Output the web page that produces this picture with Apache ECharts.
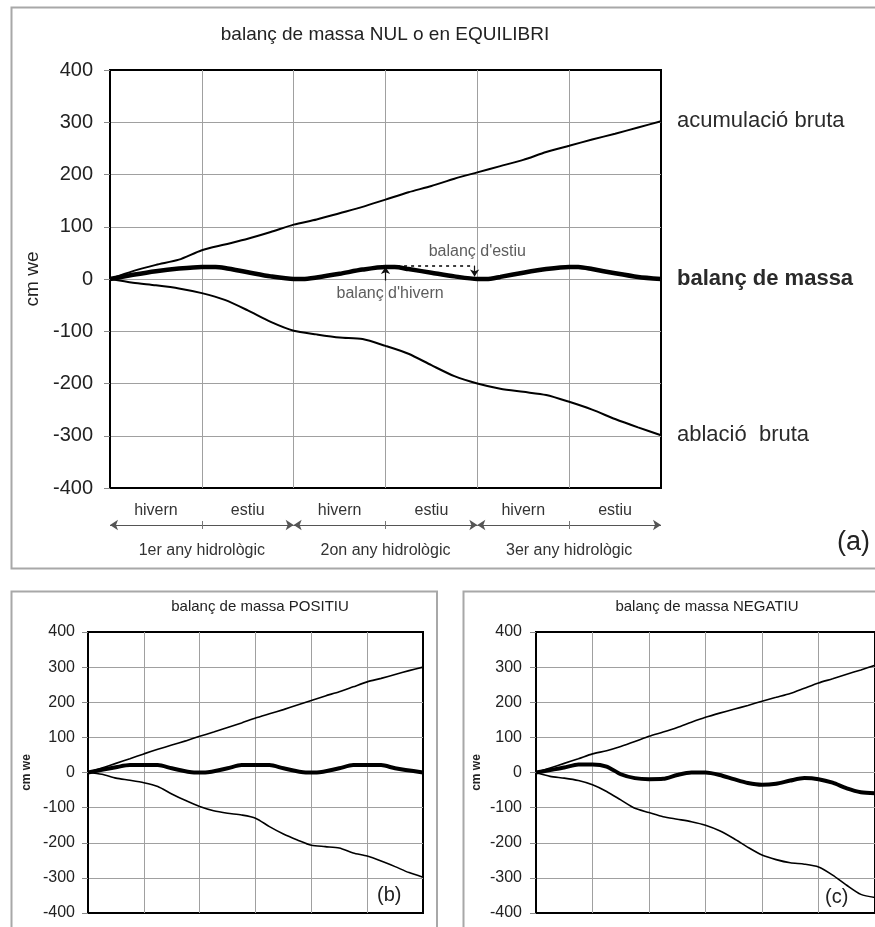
<!DOCTYPE html>
<html><head><meta charset="utf-8">
<script src="https://cdn.jsdelivr.net/npm/echarts@6/dist/echarts.min.js"></script>
<style>html,body{margin:0;padding:0;background:#fff}#c{width:875px;height:927px}</style>
</head><body><div id="c"></div>
<script>
// ---------- data ----------
const tQ = [0,0.25,0.5,0.75,1,1.25,1.5,1.75,2,2.25,2.5,2.75,3,3.25,3.5,3.75,4,4.25,4.5,4.75,5,5.25,5.5,5.75,6];

// (a) balanç NUL o en EQUILIBRI
const accA = [0,15,27,37,55,66,77,90,104,114,126,138,152,166,178,192,204,216,228,243,255,267,278,290,302];
const ablA = [0,-7,-12,-18,-27,-40,-60,-82,-99,-106,-112,-115,-128,-143,-165,-186,-200,-210,-216,-222,-235,-250,-268,-284,-299];
const balA_t = [0,0.25,0.5,0.75,1,1.15,1.25,1.5,1.75,2,2.1,2.25,2.5,2.75,3,3.1,3.25,3.5,3.75,4,4.1,4.25,4.5,4.75,5,5.1,5.25,5.5,5.75,6];
const balA = [0,8,15,20,23,23,21,13,5,0,0,3,10,18,23,23,19,12,5,0,0,4,12,19,23,23,19,11,4,0];

// (b) balanç POSITIU
const accB = [0,13,26,39,53,66,78,90,103,115,128,141,155,167,179,192,205,218,230,244,258,268,279,290,300];
const ablB = [0,-5,-16,-22,-29,-40,-61,-80,-97,-109,-116,-121,-130,-154,-175,-192,-207,-211,-215,-229,-238,-252,-268,-285,-298];
const balB_t = [0,0.25,0.5,0.75,1.25,1.5,1.9,2.1,2.5,2.75,3.25,3.5,3.9,4.1,4.5,4.75,5.25,5.5,6];
const balB = [0,8,15,21,21,12,0,0,12,21,21,12,0,0,12,21,21,12,0];

// (c) balanç NEGATIU
const accC = [0,13,26,39,53,62,74,88,103,115,128,143,157,169,180,191,203,214,225,240,255,267,280,292,305];
const ablC = [0,-11,-16,-23,-35,-54,-78,-102,-114,-126,-133,-140,-150,-166,-188,-213,-235,-248,-257,-261,-269,-292,-321,-347,-356];
const balC = [0,7,14,23,23,17,-5,-16,-19,-18,-7,0,0,-7,-19,-30,-35,-32,-23,-16,-19,-29,-45,-56,-59];

// axis / labels
const yMin = -400, yMax = 400, yStep = 100;
const seasonLabels = ['hivern','estiu','hivern','estiu','hivern','estiu'];
const yearLabels = ['1er any hidrològic','2on any hidrològic','3er any hidrològic'];
const yearBounds = [0,2,4,6];
const midTicks = [1,3,5];
const endNames = ['acumulació bruta','balanç de massa','ablació  bruta'];
// annotation: winter balance arrow (t, from, to), summer balance arrow, dotted level
const winterArrow = [3, -3, 23];
const summerArrow = [3.97, 25, 5];
const dottedLevel = [3.05, 3.97, 25];
const notes = [
  {t: 3.05, v: -27, text: "balanç d'hivern"},
  {t: 4.0, v: 52, text: "balanç d'estiu"}
];

// ---------- chart ----------
const FONT = 'Liberation Sans, Arial, Helvetica, sans-serif';
const GRIDC = '#a0a0a0';
const chart = echarts.init(document.getElementById('c'));

function mainX(g){
  return {type:'value', gridIndex:g, min:0, max:6, interval:1,
    axisLabel:{show:false}, axisTick:{show:false}, axisLine:{show:false},
    splitLine:{show:true, showMinLine:false, showMaxLine:false, lineStyle:{color:GRIDC, width:1}}};
}
function mainY(g, fs, margin, nameGap, nameStyle){
  return {type:'value', gridIndex:g, min:yMin, max:yMax, interval:yStep,
    name:'cm we', nameLocation:'middle', nameGap:nameGap, nameRotate:90,
    nameTextStyle:Object.assign({fontFamily:FONT, color:'#222'}, nameStyle),
    axisLine:{show:true, lineStyle:{color:'#000', width:2}},
    axisTick:{show:true, length:6, lineStyle:{color:'#888'}},
    axisLabel:{fontSize:fs, color:'#222', margin:margin, fontFamily:FONT},
    splitLine:{show:true, showMinLine:false, showMaxLine:false, lineStyle:{color:GRIDC, width:1}}};
}
function line(g, ts, vs, w, extra){
  return Object.assign({type:'line', xAxisIndex:g, yAxisIndex:g,
    data: ts.map((t,i)=>[t, vs[i]]), symbol:'none', showSymbol:false, smooth:0.25,
    lineStyle:{color:'#000', width:w}, silent:true, z: w > 3 ? 5 : 3}, extra || {});
}
function endLabel(text, bold){
  return {endLabel:{show:true, formatter:text, distance:16, fontSize:22, color:'#2a2a2a',
    fontWeight: bold ? 'bold' : 'normal', fontFamily:FONT}};
}

const option = {
  animation:false,
  backgroundColor:'#fff',
  textStyle:{fontFamily:FONT},
  grid:[
    {left:110, top:70, width:551, height:418, show:true, borderColor:'#000', borderWidth:2, backgroundColor:'transparent'},
    {left:88, top:632, width:335, height:281, show:true, borderColor:'#000', borderWidth:2, backgroundColor:'transparent'},
    {left:536, top:632, width:341, height:281, show:true, borderColor:'#000', borderWidth:2, backgroundColor:'transparent'},
    {left:110, top:521, width:551, height:8, show:false}
  ],
  xAxis:[
    mainX(0), mainX(1), mainX(2),
    {type:'value', gridIndex:3, min:0, max:6, show:false},
    {type:'category', gridIndex:3, data:seasonLabels, position:'top', boundaryGap:true,
      axisLine:{show:false}, axisTick:{show:false},
      axisLabel:{interval:0, margin:2, fontSize:16, color:'#333', fontFamily:FONT}},
    {type:'category', gridIndex:3, data:yearLabels, position:'bottom', boundaryGap:true,
      axisLine:{show:false}, axisTick:{show:false},
      axisLabel:{interval:0, margin:14, fontSize:16, color:'#333', fontFamily:FONT}}
  ],
  yAxis:[
    mainY(0, 20, 17, 66, {fontSize:19}),
    mainY(1, 16, 13, 55, {fontSize:12, fontWeight:'bold'}),
    mainY(2, 16, 14, 53, {fontSize:12, fontWeight:'bold'}),
    {type:'value', gridIndex:3, min:-1, max:1, show:false}
  ],
  series:[
    // (a)
    line(0, tQ, accA, 2, Object.assign(endLabel(endNames[0], false), {
      markLine:{silent:true, symbol:'none', label:{show:false},
        lineStyle:{color:'#000', width:1.6, type:[3,4]},
        data:[[{coord:[dottedLevel[0], dottedLevel[2]]},{coord:[dottedLevel[1], dottedLevel[2]]}]]}
    })),
    line(0, tQ, ablA, 2, endLabel(endNames[2], false)),
    line(0, balA_t, balA, 4.5, Object.assign(endLabel(endNames[1], true), {
      markLine:{silent:true, symbol:['none','arrow'], symbolSize:7, label:{show:false},
        lineStyle:{color:'#111', width:1.2, type:'solid'},
        data:[
          [{coord:[winterArrow[0], winterArrow[1]]},{coord:[winterArrow[0], winterArrow[2]]}],
          [{coord:[summerArrow[0], summerArrow[1]]},{coord:[summerArrow[0], summerArrow[2]]}]
        ]}
    })),
    {type:'scatter', xAxisIndex:0, yAxisIndex:0, silent:true, symbolSize:1,
      itemStyle:{color:'rgba(0,0,0,0)'},
      data: notes.map(n=>({value:[n.t, n.v], name:n.text})),
      label:{show:true, position:'inside', formatter:'{b}', fontSize:16, color:'#333', fontFamily:FONT}},
    // (b)
    line(1, tQ, accB, 1.6),
    line(1, tQ, ablB, 1.6),
    line(1, balB_t, balB, 4),
    // (c)
    line(2, tQ, accC, 1.6),
    line(2, tQ, ablC, 1.6),
    line(2, tQ, balC, 4),
    // hydrological-year arrows
    {type:'line', xAxisIndex:3, yAxisIndex:3, data:[[0,0]], symbol:'none', silent:true,
      lineStyle:{opacity:0},
      markLine:{silent:true, symbol:['arrow','arrow'], symbolSize:8, label:{show:false},
        lineStyle:{color:'#555', width:1, type:'solid'},
        data: yearBounds.slice(0,-1).map((b,i)=>[{coord:[b,0]},{coord:[yearBounds[i+1],0]}])}},
    {type:'line', xAxisIndex:3, yAxisIndex:3, data:[[0,0]], symbol:'none', silent:true,
      lineStyle:{opacity:0},
      markLine:{silent:true, symbol:'none', label:{show:false},
        lineStyle:{color:'#777', width:1, type:'solid'},
        data: midTicks.map(m=>[{coord:[m,-1]},{coord:[m,1]}])}}
  ],
  graphic:[
    {type:'rect', shape:{x:11.5, y:7.5, width:900, height:561}, style:{fill:'none', stroke:'#a8a8a8', lineWidth:2}, z:-1, silent:true},
    {type:'rect', shape:{x:11.5, y:591.5, width:425.5, height:400}, style:{fill:'none', stroke:'#a8a8a8', lineWidth:2}, z:-1, silent:true},
    {type:'rect', shape:{x:463.5, y:591.5, width:500, height:400}, style:{fill:'none', stroke:'#a8a8a8', lineWidth:2}, z:-1, silent:true},
    {type:'text', x:385, y:35, style:{text:'balanç de massa NUL o en EQUILIBRI', fontSize:19, fill:'#222', align:'center', verticalAlign:'middle', fontFamily:FONT}},
    {type:'text', x:260, y:607, style:{text:'balanç de massa POSITIU', fontSize:15, fill:'#222', align:'center', verticalAlign:'middle', fontFamily:FONT}},
    {type:'text', x:707, y:607, style:{text:'balanç de massa NEGATIU', fontSize:15, fill:'#222', align:'center', verticalAlign:'middle', fontFamily:FONT}},
    {type:'text', x:837, y:543, style:{text:'(a)', fontSize:27, fill:'#222', align:'left', verticalAlign:'middle', fontFamily:FONT}},
    {type:'text', x:377, y:895, style:{text:'(b)', fontSize:20, fill:'#222', align:'left', verticalAlign:'middle', fontFamily:FONT}},
    {type:'text', x:825, y:897, style:{text:'(c)', fontSize:20, fill:'#222', align:'left', verticalAlign:'middle', fontFamily:FONT}}
  ]
};
chart.setOption(option);
</script></body></html>
